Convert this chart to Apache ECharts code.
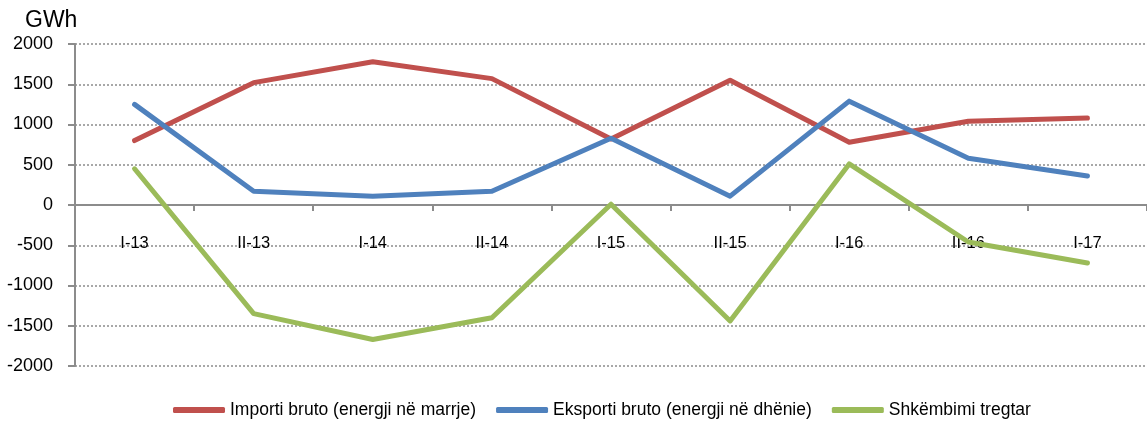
<!DOCTYPE html>
<html>
<head>
<meta charset="utf-8">
<script src="https://cdn.jsdelivr.net/npm/echarts@6/dist/echarts.min.js"></script>
<style>
html,body{margin:0;padding:0;background:#fff;}
#c{width:1147px;height:424px;}
</style>
</head>
<body>
<div id="c"></div>
<script>
const categories = ['I-13','II-13','I-14','II-14','I-15','II-15','I-16','II-16','I-17'];
const importi = [800, 1520, 1780, 1570, 820, 1550, 780, 1040, 1080];
const eksporti = [1250, 170, 110, 170, 830, 110, 1290, 580, 360];
const shkembimi = [450, -1350, -1670, -1400, 10, -1440, 510, -460, -720];
const seriesNames = ['Importi bruto (energji në marrje)', 'Eksporti bruto (energji në dhënie)', 'Shkëmbimi tregtar'];
const colors = ['#C0504D', '#4F81BD', '#9BBB59'];

const font = 'Liberation Sans, Arial, sans-serif';
const gridTop = 44, gridHeight = 322, yMin = -2000, yMax = 2000;
const zeroOffset = -gridHeight * (0 - yMin) / (yMax - yMin);

const chart = echarts.init(document.getElementById('c'));
const mk = (name, data, color) => ({
  name, type: 'line', data, symbol: 'none', smooth: false,
  lineStyle: { color, width: 5, cap: 'round', join: 'round' },
  itemStyle: { color },
  z: 3
});
chart.setOption({
  animation: false,
  title: { text: 'GWh', left: 20, top: 4, textStyle: { fontFamily: font, fontSize: 23, fontWeight: 'normal', color: '#000' } },
  grid: { left: 75, top: gridTop, width: 1080, height: gridHeight, containLabel: false },
  legend: {
    bottom: 0, left: 168, itemWidth: 52, itemHeight: 6, itemGap: 20, icon: 'roundRect',
    textStyle: { fontFamily: font, fontSize: 17.5, color: '#000' },
    data: seriesNames
  },
  xAxis: {
    type: 'category', data: categories, boundaryGap: true, position: 'bottom',
    offset: zeroOffset,
    axisLine: { onZero: false, lineStyle: { color: '#8c8c8c', width: 2 } },
    axisTick: { show: true, length: 6, lineStyle: { color: '#8c8c8c', width: 2 } },
    axisLabel: { margin: 30, fontFamily: font, fontSize: 16.5, color: '#000' },
    splitLine: { show: false }
  },
  yAxis: {
    type: 'value', min: yMin, max: yMax, interval: 500,
    axisLine: { show: true, lineStyle: { color: '#8c8c8c', width: 2 } },
    axisTick: { show: true, length: 7, lineStyle: { color: '#8c8c8c', width: 2 } },
    axisLabel: { margin: 22, fontFamily: font, fontSize: 18, color: '#000', formatter: v => String(v) },
    splitLine: { show: true, lineStyle: { color: '#8c8c8c', type: [2, 2], width: 1.5 } }
  },
  series: [
    mk(seriesNames[0], importi, colors[0]),
    mk(seriesNames[1], eksporti, colors[1]),
    mk(seriesNames[2], shkembimi, colors[2])
  ]
});
</script>
</body>
</html>
